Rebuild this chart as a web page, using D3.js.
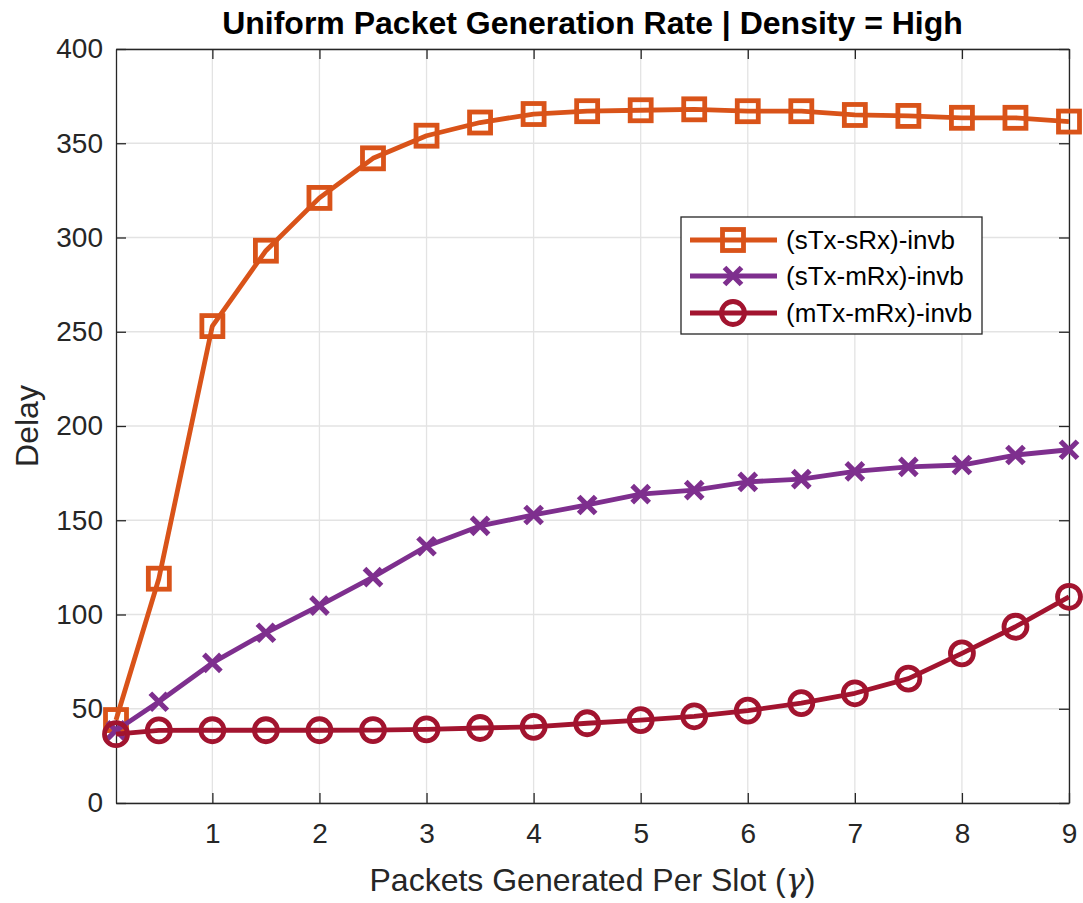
<!DOCTYPE html>
<html>
<head>
<meta charset="utf-8">
<script src="https://cdn.jsdelivr.net/npm/d3@7"></script>
<style>
  html, body { margin: 0; padding: 0; background: #fff; }
  svg { display: block; }
  text { font-family: "Liberation Sans", Arial, Helvetica, sans-serif; }
</style>
</head>
<body>
<svg id="chart" width="1083" height="903"></svg>
<script>
// Packet generation rate (gamma) sampled in half steps
const gamma = [0.1, 0.5, 1, 1.5, 2, 2.5, 3, 3.5, 4, 4.5, 5, 5.5, 6, 6.5, 7, 7.5, 8, 8.5, 9];

// Average delay for each transmitter/receiver scheme
const delaySTxSRx = [44, 119, 253, 293, 321, 342, 354, 361, 365.5, 367, 367.5, 368, 367, 367, 365, 364.5, 363.5, 363.5, 361.5];
const delaySTxMRx = [38.5, 53.7, 74.3, 90.3, 104.7, 119.8, 136.2, 147, 152.8, 158.1, 163.9, 166, 170.4, 171.8, 175.9, 178.3, 179.3, 184.6, 187.4];
const delayMTxMRx = [36.5, 38.5, 38.6, 38.6, 38.6, 38.7, 39.1, 39.8, 40.4, 42.3, 44, 46, 49, 53, 58.2, 66, 79.4, 93.5, 109.4];

const seriesNames = ["(sTx-sRx)-invb", "(sTx-mRx)-invb", "(mTx-mRx)-invb"];
const seriesColors = ["#D95319", "#7E2F8E", "#A2142F"];
const seriesMarkers = ["square", "cross", "circle"];

const xTicks = [1, 2, 3, 4, 5, 6, 7, 8, 9];
const yTicks = [0, 50, 100, 150, 200, 250, 300, 350, 400];

const titleText = "Uniform Packet Generation Rate | Density = High";
const yLabelText = "Delay";

const svg = d3.select("#chart");
const W = 1083, H = 903;
const margin = { left: 116, right: W - 1069, top: 49, bottom: H - 803 };
const x = d3.scaleLinear().domain([0.1, 9]).range([margin.left, W - margin.right]);
const y = d3.scaleLinear().domain([0, 400]).range([H - margin.bottom, margin.top]);

const axisColor = "#262626";
const gridColor = "#e3e3e3";
const lineW = 4.8;

// Grid lines
const grid = svg.append("g");
grid.selectAll("line.gx").data(xTicks).join("line")
  .attr("x1", d => x(d)).attr("x2", d => x(d))
  .attr("y1", y(0)).attr("y2", y(400))
  .attr("stroke", gridColor).attr("stroke-width", 1.3);
grid.selectAll("line.gy").data(yTicks).join("line")
  .attr("x1", x(0.1)).attr("x2", x(9))
  .attr("y1", d => y(d)).attr("y2", d => y(d))
  .attr("stroke", gridColor).attr("stroke-width", 1.3);

// Axes with inward ticks on all four sides
function styleAxis(g) {
  g.select(".domain").attr("stroke", axisColor).attr("stroke-width", 1.3);
  g.selectAll(".tick line").attr("stroke", axisColor).attr("stroke-width", 1.3);
  g.selectAll(".tick text").attr("fill", axisColor)
    .style("font-family", "'Liberation Sans', Arial, sans-serif").style("font-size", "28px");
}
const tickLen = 10;
const xAxisB = svg.append("g").attr("transform", `translate(0,${y(0)})`)
  .call(d3.axisBottom(x).tickValues(xTicks).tickSize(-tickLen).tickPadding(20).tickSizeOuter(0).tickFormat(d3.format("d")));
styleAxis(xAxisB);
const xAxisT = svg.append("g").attr("transform", `translate(0,${y(400)})`)
  .call(d3.axisTop(x).tickValues(xTicks).tickSize(-tickLen).tickSizeOuter(0).tickFormat(""));
styleAxis(xAxisT);
const yAxisL = svg.append("g").attr("transform", `translate(${x(0.1)},0)`)
  .call(d3.axisLeft(y).tickValues(yTicks).tickSize(-tickLen).tickPadding(13).tickSizeOuter(0).tickFormat(d3.format("d")));
styleAxis(yAxisL);
const yAxisR = svg.append("g").attr("transform", `translate(${x(9)},0)`)
  .call(d3.axisRight(y).tickValues(yTicks).tickSize(-tickLen).tickSizeOuter(0).tickFormat(""));
styleAxis(yAxisR);

// Marker drawing
function drawMarker(g, type, color) {
  if (type === "square") {
    g.append("rect").attr("x", -10.5).attr("y", -10.5).attr("width", 21).attr("height", 21)
      .attr("fill", "none").attr("stroke", color).attr("stroke-width", lineW);
  } else if (type === "cross") {
    const s = 8.5;
    g.append("path").attr("d", `M${-s},${-s}L${s},${s}M${-s},${s}L${s},${-s}`)
      .attr("fill", "none").attr("stroke", color).attr("stroke-width", lineW + 0.4);
  } else {
    g.append("circle").attr("r", 11.5)
      .attr("fill", "none").attr("stroke", color).attr("stroke-width", lineW);
  }
}

const seriesValues = [delaySTxSRx, delaySTxMRx, delayMTxMRx];
const plotArea = svg.append("g");
const line = d3.line().x(d => x(d[0])).y(d => y(d[1]));

seriesValues.forEach((vals, i) => {
  const pts = gamma.map((g, k) => [g, vals[k]]);
  const g = plotArea.append("g");
  g.append("path").datum(pts).attr("d", line)
    .attr("fill", "none").attr("stroke", seriesColors[i]).attr("stroke-width", lineW)
    .attr("stroke-linejoin", "round");
  g.selectAll("g.m").data(pts).join("g")
    .attr("transform", d => `translate(${x(d[0])},${y(d[1])})`)
    .each(function () { drawMarker(d3.select(this), seriesMarkers[i], seriesColors[i]); });
});

// Title and axis labels
svg.append("text").attr("x", (x(0.1) + x(9)) / 2).attr("y", 34)
  .attr("text-anchor", "middle").attr("fill", "#000")
  .style("font-size", "32px").style("font-weight", "bold").text(titleText);

const xl = svg.append("text").attr("x", (x(0.1) + x(9)) / 2).attr("y", 891)
  .attr("text-anchor", "middle").attr("fill", axisColor).style("font-size", "32px");
xl.append("tspan").text("Packets Generated Per Slot (");
xl.append("tspan").style("font-family", "'DejaVu Serif', serif").style("font-style", "italic").text("γ");
xl.append("tspan").text(")");

svg.append("text").attr("transform", `translate(38,${(y(0) + y(400)) / 2}) rotate(-90)`)
  .attr("text-anchor", "middle").attr("fill", axisColor).style("font-size", "32px").text(yLabelText);

// Legend
const lg = svg.append("g").attr("transform", "translate(681,217)");
lg.append("rect").attr("width", 301).attr("height", 117)
  .attr("fill", "#fff").attr("stroke", axisColor).attr("stroke-width", 1.3);
const rowY = [23, 59, 96];
seriesNames.forEach((name, i) => {
  const r = lg.append("g").attr("transform", `translate(0,${rowY[i]})`);
  r.append("line").attr("x1", 9).attr("x2", 96).attr("y1", 0).attr("y2", 0)
    .attr("stroke", seriesColors[i]).attr("stroke-width", lineW);
  const m = r.append("g").attr("transform", "translate(52,0)");
  drawMarker(m, seriesMarkers[i], seriesColors[i]);
  r.append("text").attr("x", 105).attr("y", 9).attr("fill", "#000")
    .style("font-size", "26px").text(name);
});
</script>
</body>
</html>
